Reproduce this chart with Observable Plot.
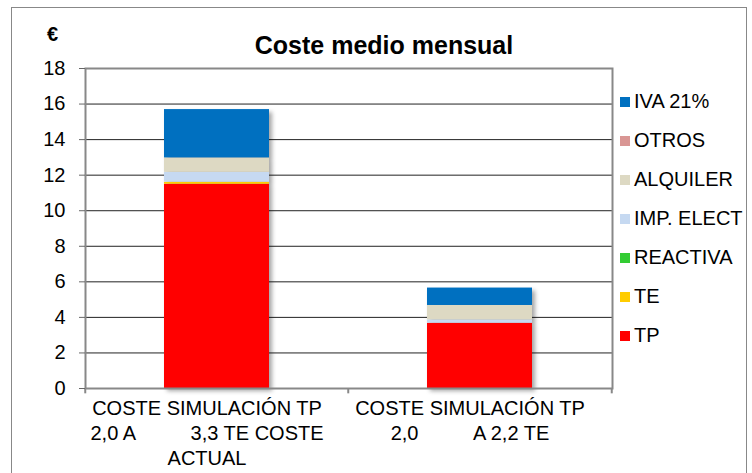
<!DOCTYPE html>
<html>
<head>
<meta charset="utf-8">
<script src="https://cdn.jsdelivr.net/npm/d3@7"></script>
<script src="https://cdn.jsdelivr.net/npm/@observablehq/plot@0.6"></script>
<style>
  body { margin: 0; background: #fff; }
  #wrap { position: relative; width: 752px; height: 473px; overflow: hidden; font-family: "Liberation Sans", Arial, sans-serif; }
  #outer { position: absolute; left: 11px; top: 7px; width: 736px; height: 480px; border: 1px solid #888; box-sizing: border-box; }
  #title { position: absolute; left: 0; width: 768px; top: 31px; text-align: center; font-weight: bold; font-size: 25px; color: #000; }
  #unit { position: absolute; left: 47px; top: 23px; font-weight: bold; font-size: 20px; }
  .leg { position: absolute; left: 620px; font-size: 20px; color: #000; white-space: nowrap; line-height: 22px; }
  .leg span { display: inline-block; width: 10px; height: 10px; margin-right: 4px; vertical-align: 1px; }
  svg text { white-space: pre; }
  g[aria-label="bar"] { filter: drop-shadow(3px 3px 2px rgba(0,0,0,0.35)); }
</style>
</head>
<body>
<div id="wrap">
  <div id="outer"></div>
  <div id="chart"></div>
  <div id="title">Coste medio mensual</div>
  <div id="unit">€</div>
</div>
<script>
const categories = ["TP2.0A-3.3TE", "TP2.0A-2.2TE"];
const tickLabels = [
  ["COSTE SIMULACIÓN TP", "2,0 A          3,3 TE COSTE", "ACTUAL"],
  ["COSTE SIMULACIÓN TP", "2,0          A 2,2 TE"]
];
const series = ["TP", "TE", "REACTIVA", "IMP. ELECT", "ALQUILER", "OTROS", "IVA 21%"];
const colors = ["#FF0000", "#FFCC00", "#33CC33", "#C6D9F1", "#DDD9C3", "#D99694", "#0070C0"];
const tp = [11.49, 3.67];
const te = [0.11, 0.0];
const reactiva = [0, 0];
const impElect = [0.56, 0.19];
const alquiler = [0.81, 0.81];
const otros = [0, 0];
const iva = [2.72, 0.98];
const yTicks = [0, 2, 4, 6, 8, 10, 12, 14, 16, 18];

const values = [tp, te, reactiva, impElect, alquiler, otros, iva];
const data = categories.flatMap((c, i) => series.map((s, j) => ({cat: c, serie: s, value: values[j][i]})));

const halfStep = (752 - 85 - 140) / categories.length / 2;

const chart = Plot.plot({
  width: 752, height: 473,
  marginLeft: 85, marginRight: 140, marginTop: 68, marginBottom: 85,
  style: {fontFamily: "'Liberation Sans', Arial, sans-serif", fontSize: "20px", background: "transparent", overflow: "visible", color: "#000"},
  x: {domain: categories, paddingInner: 0.6, paddingOuter: 0.3},
  y: {domain: [0, 18]},
  color: {domain: series, range: colors},
  marks: [
    Plot.ruleY(yTicks.slice(1, -1), {stroke: "#222", strokeWidth: 1}),
    Plot.barY(data, {x: "cat", y: "value", fill: "serie", order: series}),
    Plot.frame({stroke: "#888", strokeWidth: 2}),
    Plot.ruleX(categories, {x: d => d, y1: 0, y2: -0.3, dx: -halfStep, stroke: "#888", strokeWidth: 2}),
    Plot.ruleX(categories.slice(-1), {x: d => d, y1: 0, y2: -0.3, dx: halfStep, stroke: "#888", strokeWidth: 2}),
    Plot.axisY({ticks: yTicks, tickSize: 6, tickPadding: 14, stroke: "#666", label: null, tickFormat: d => String(d)}),
    Plot.axisX({tickSize: 0, tickPadding: 9, label: null, dx: -10, lineHeight: 1.25,
      tickFormat: (d) => tickLabels[categories.indexOf(d)].join("\n")})
  ]
});
document.getElementById("chart").appendChild(chart);

const wrap = document.getElementById("wrap");
series.slice().reverse().forEach((s, k) => {
  const i = series.indexOf(s);
  const el = document.createElement("div");
  el.className = "leg";
  el.style.top = (90 + k * 39) + "px";
  el.innerHTML = `<span style="background:${colors[i]}"></span>${s}`;
  wrap.appendChild(el);
});
</script>
</body>
</html>
